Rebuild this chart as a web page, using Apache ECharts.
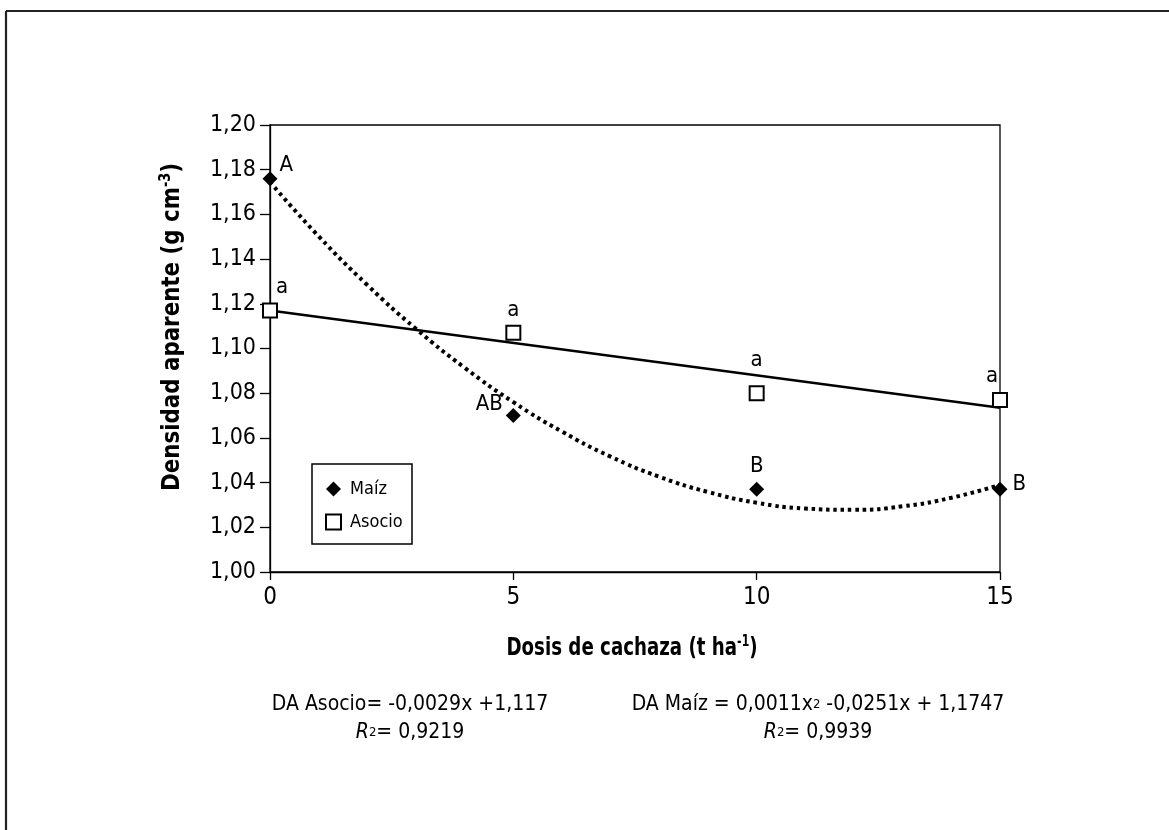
<!DOCTYPE html>
<html>
<head>
<meta charset="utf-8">
<script src="https://cdn.jsdelivr.net/npm/echarts@6/dist/echarts.min.js"></script>
<style>
html,body{margin:0;padding:0;background:#fff;}
#chart{width:1169px;height:830px;}
</style>
</head>
<body>
<div id="chart"></div>
<script>
// ---- data ----
const doses = [0, 5, 10, 15];
const maiz = [1.176, 1.070, 1.037, 1.037];
const asocio = [1.117, 1.107, 1.080, 1.077];
const maizLetters = ['A', 'AB', 'B', 'B'];
const asocioLetters = ['a', 'a', 'a', 'a'];
// fitted curves
const maizCurveX = [0, 1, 2, 3, 4, 5, 6, 7, 8, 9, 10, 11, 12, 13, 14, 15];
const maizCurveY = [1.1745, 1.1502, 1.1284, 1.1088, 1.0914, 1.0760, 1.0628, 1.0516, 1.0426, 1.0358, 1.0310, 1.0284, 1.0278, 1.0294, 1.0332, 1.0390];
const asocioLineX = [0, 15];
const asocioLineY = [1.117, 1.0735];

const F = "'Liberation Sans Narrow', 'DejaVu Sans Condensed', 'Arial Narrow', sans-serif";

// label placement (style)
const maizLabelPos = [
  {position: 'right', distance: 2, offset: [0, -13]},
  {position: 'left', distance: 3, offset: [0, -11]},
  {position: 'top', distance: 5, offset: [0, 0]},
  {position: 'right', distance: 5, offset: [0, -5]}
];
const asocioLabelPos = [
  {position: 'top', distance: 4, offset: [12, 0]},
  {position: 'top', distance: 4, offset: [0, 0]},
  {position: 'top', distance: 14, offset: [0, 0]},
  {position: 'top', distance: 5, offset: [-8, 0]}
];

function pts(xs, ys, letters, pos) {
  return xs.map((x, i) => {
    const d = {value: [x, ys[i]]};
    if (letters) {
      d.label = Object.assign({show: true, formatter: letters[i], color: '#000', fontFamily: F, fontSize: 22}, pos[i]);
    }
    return d;
  });
}

const chart = echarts.init(document.getElementById('chart'), null, {renderer: 'canvas'});
const option = {
  backgroundColor: '#fff',
  animation: false,
  grid: {left: 270, right: 169, top: 125, bottom: 258, show: true, borderColor: '#000', borderWidth: 1.3},
  xAxis: {
    type: 'value', min: 0, max: 15, interval: 5,
    axisLine: {show: true, onZero: false, lineStyle: {color: '#000', width: 1.3}},
    axisTick: {show: true, length: 8, lineStyle: {color: '#000', width: 1.3}},
    axisLabel: {color: '#000', fontFamily: F, fontSize: 24, margin: 14},
    splitLine: {show: false}
  },
  yAxis: {
    type: 'value', min: 1, max: 1.2, interval: 0.02,
    axisLine: {show: true, onZero: false, lineStyle: {color: '#000', width: 1.3}},
    axisTick: {show: true, length: 10, lineStyle: {color: '#000', width: 1.3}},
    axisLabel: {color: '#000', fontFamily: F, fontSize: 23, margin: 14,
      formatter: v => v.toFixed(2).replace('.', ',')},
    splitLine: {show: false}
  },
  legend: {
    left: 325, top: 480, orient: 'vertical', padding: 0, itemGap: 15,
    itemWidth: 15, itemHeight: 15,
    data: ['Maíz', 'Asocio'],
    textStyle: {color: '#000', fontFamily: F, fontSize: 18, lineHeight: 18, padding: [0, 0, 0, 4]}
  },
  series: [
    {
      name: 'Maíz curva', type: 'line', smooth: true, showSymbol: false, z: 2,
      data: maizCurveX.map((x, i) => [x, maizCurveY[i]]),
      lineStyle: {color: '#000', width: 4, type: [3.5, 3.8], cap: 'butt'},
      emphasis: {disabled: true}
    },
    {
      name: 'Asocio recta', type: 'line', showSymbol: false, z: 2,
      data: asocioLineX.map((x, i) => [x, asocioLineY[i]]),
      lineStyle: {color: '#000', width: 2.5},
      emphasis: {disabled: true}
    },
    {
      name: 'Maíz', type: 'scatter', symbol: 'diamond', symbolSize: 15, z: 5,
      itemStyle: {color: '#000', opacity: 1},
      data: pts(doses, maiz, maizLetters, maizLabelPos)
    },
    {
      name: 'Asocio', type: 'scatter', symbol: 'rect', symbolSize: 14, z: 5,
      itemStyle: {color: '#fff', borderColor: '#000', borderWidth: 2, opacity: 1},
      data: pts(doses, asocio, asocioLetters, asocioLabelPos)
    }
  ],
  graphic: [
    // outer frame (clipped at right and bottom)
    {type: 'line', shape: {x1: 6, y1: 11, x2: 1169, y2: 11}, style: {stroke: '#222', lineWidth: 2.2}},
    {type: 'line', shape: {x1: 6, y1: 11, x2: 6, y2: 830}, style: {stroke: '#222', lineWidth: 2.2}},
    // legend box
    {type: 'rect', shape: {x: 312, y: 464, width: 100, height: 80}, style: {fill: 'none', stroke: '#000', lineWidth: 1.5}, z: 10},
    // x axis title
    {type: 'text', x: 632, y: 648, scaleX: 0.81, style: {
      text: '{b|Dosis de cachaza (t ha}{s|-1}{b|)}', align: 'center', verticalAlign: 'middle',
      rich: {b: {fontFamily: F, fontSize: 25, fontWeight: 'bold', fill: '#000'},
             s: {fontFamily: F, fontSize: 15, fontWeight: 'bold', fill: '#000', padding: [0, 0, 12, 0]}}
    }},
    // y axis title
    {type: 'text', x: 172, y: 327, rotation: Math.PI / 2, scaleX: 0.95, style: {
      text: '{b|Densidad aparente (g cm}{s|-3}{b|)}', align: 'center', verticalAlign: 'middle',
      rich: {b: {fontFamily: F, fontSize: 25, fontWeight: 'bold', fill: '#000'},
             s: {fontFamily: F, fontSize: 15, fontWeight: 'bold', fill: '#000', padding: [0, 0, 12, 0]}}
    }},
    // equations
    {type: 'text', x: 410, y: 705, style: {
      text: 'DA Asocio= -0,0029x +1,117', align: 'center', verticalAlign: 'middle',
      fontFamily: F, fontSize: 21, fill: '#000'}},
    {type: 'text', x: 410, y: 733, style: {
      text: '{i|R}{m|2}{n|= 0,9219}', align: 'center', verticalAlign: 'middle',
      rich: {i: {fontFamily: F, fontSize: 21, fontStyle: 'italic', fill: '#000'},
             m: {fontFamily: F, fontSize: 13, fill: '#000'},
             n: {fontFamily: F, fontSize: 21, fill: '#000'}}}},
    {type: 'text', x: 818, y: 705, style: {
      text: '{n|DA Maíz = 0,0011x}{m|2}{n| -0,0251x + 1,1747}', align: 'center', verticalAlign: 'middle',
      rich: {m: {fontFamily: F, fontSize: 13, fill: '#000'},
             n: {fontFamily: F, fontSize: 21, fill: '#000'}}}},
    {type: 'text', x: 818, y: 733, style: {
      text: '{i|R}{m|2}{n|= 0,9939}', align: 'center', verticalAlign: 'middle',
      rich: {i: {fontFamily: F, fontSize: 21, fontStyle: 'italic', fill: '#000'},
             m: {fontFamily: F, fontSize: 13, fill: '#000'},
             n: {fontFamily: F, fontSize: 21, fill: '#000'}}}}
  ]
};
chart.setOption(option);
</script>
</body>
</html>
